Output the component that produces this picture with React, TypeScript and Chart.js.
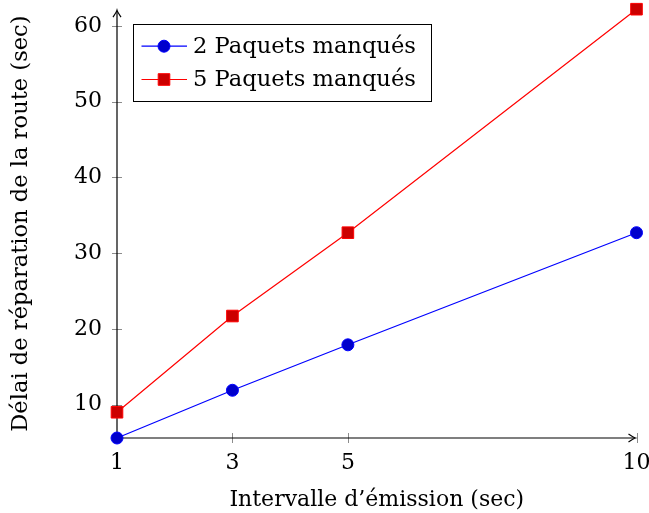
import React, { useEffect, useRef } from "react";
import { Chart, registerables } from "chart.js";

Chart.register(...registerables);

const xValues = [1, 3, 5, 10];
const blueValues = [5.6, 11.9, 17.9, 32.7];
const redValues = [9.0, 21.7, 32.7, 62.2];
const xTickValues = [1, 3, 5, 10];
const yTickValues = [10, 20, 30, 40, 50, 60];
const seriesLabels = ["2 Paquets manqués", "5 Paquets manqués"];
const xTitle = "Intervalle d’émission (sec)";
const yTitle = "Délai de réparation de la route (sec)";

const FONT = '"DejaVu Serif", serif';
const FS = 22;

function drawArrow(ctx: CanvasRenderingContext2D, tx: number, ty: number, dx: number, dy: number) {
  const L = 7, W = 4;
  const px = -dy, py = dx;
  ctx.beginPath();
  ctx.moveTo(tx - L * dx + W * px, ty - L * dy + W * py);
  ctx.quadraticCurveTo(tx - 2 * dx + 0.6 * px, ty - 2 * dy + 0.6 * py, tx, ty);
  ctx.quadraticCurveTo(tx - 2 * dx - 0.6 * px, ty - 2 * dy - 0.6 * py, tx - L * dx - W * px, ty - L * dy - W * py);
  ctx.stroke();
}

const axesPlugin = {
  id: "pgfAxes",
  beforeDatasetsDraw(chart: any) {
    const { ctx, chartArea: a, scales } = chart;
    const x = scales.x, y = scales.y;
    ctx.save();
    ctx.strokeStyle = "#8c8c8c";
    ctx.lineWidth = 1;
    for (const v of xTickValues) {
      const px = Math.round(x.getPixelForValue(v)) + 0.5;
      ctx.beginPath();
      ctx.moveTo(px, a.bottom - 5);
      ctx.lineTo(px, a.bottom + 5);
      ctx.stroke();
    }
    for (const v of yTickValues) {
      const py = Math.round(y.getPixelForValue(v)) + 0.5;
      ctx.beginPath();
      ctx.moveTo(a.left - 5, py);
      ctx.lineTo(a.left + 5, py);
      ctx.stroke();
    }
    ctx.strokeStyle = "#000";
    ctx.lineWidth = 1.2;
    ctx.beginPath();
    ctx.moveTo(a.left, a.bottom);
    ctx.lineTo(a.left, a.top + 2);
    ctx.moveTo(a.left, a.bottom);
    ctx.lineTo(a.right - 2, a.bottom);
    ctx.stroke();
    drawArrow(ctx, a.left, a.top + 1, 0, -1);
    drawArrow(ctx, a.right - 1, a.bottom, 1, 0);
    ctx.restore();
  },
};

const legendPlugin = {
  id: "pgfLegend",
  afterDatasetsDraw(chart: any) {
    const { ctx, chartArea: a } = chart;
    ctx.save();
    ctx.font = `22.6px ${FONT}`;
    const ds = chart.data.datasets;
    let maxW = 0;
    for (const d of ds) maxW = Math.max(maxW, ctx.measureText(d.label).width);
    const left = a.left + 16;
    const top = a.top + 14.5;
    const w = 8.5 + 45.5 + 6 + maxW + 15;
    const h = 76.5;
    ctx.fillStyle = "#fff";
    ctx.fillRect(left, top, w, h);
    ctx.strokeStyle = "#000";
    ctx.lineWidth = 1;
    ctx.strokeRect(Math.round(left) + 0.5, Math.round(top) + 0.5, Math.round(w), Math.round(h));
    const rows = [top + 22.5, top + 55.8];
    ds.forEach((d: any, i: number) => {
      const yy = rows[i];
      ctx.strokeStyle = d.borderColor;
      ctx.lineWidth = 1.2;
      ctx.beginPath();
      ctx.moveTo(left + 8.5, yy);
      ctx.lineTo(left + 54, yy);
      ctx.stroke();
      const mx = left + 31;
      ctx.lineWidth = 1;
      ctx.fillStyle = d.pointBackgroundColor;
      ctx.strokeStyle = d.pointBorderColor;
      if (d.pointStyle === "rect") {
        const s = d.pointRadius * Math.SQRT1_2;
        ctx.beginPath();
        ctx.rect(mx - s, yy - s, 2 * s, 2 * s);
        ctx.fill();
        ctx.stroke();
      } else {
        ctx.beginPath();
        ctx.arc(mx, yy, d.pointRadius, 0, Math.PI * 2);
        ctx.fill();
        ctx.stroke();
      }
      ctx.fillStyle = "#000";
      ctx.textBaseline = "middle";
      ctx.textAlign = "left";
      ctx.fillText(d.label, left + 60, yy + 1);
    });
    ctx.restore();
  },
};

export default function App() {
  const ref = useRef<HTMLCanvasElement>(null);
  useEffect(() => {
    if (!ref.current) return;
    const all = [...blueValues, ...redValues];
    const chart = new Chart(ref.current, {
      type: "line",
      data: {
        datasets: [
          {
            label: seriesLabels[0],
            data: xValues.map((x, i) => ({ x, y: blueValues[i] })),
            borderColor: "#0000ff",
            borderWidth: 1.2,
            pointStyle: "circle",
            pointRadius: 6,
            pointBackgroundColor: "#0000cc",
            pointBorderColor: "#0000ff",
            pointBorderWidth: 1,
            clip: false,
            tension: 0,
          },
          {
            label: seriesLabels[1],
            data: xValues.map((x, i) => ({ x, y: redValues[i] })),
            borderColor: "#ff0000",
            borderWidth: 1.2,
            pointStyle: "rect",
            pointRadius: 8.2,
            pointBackgroundColor: "#cc0000",
            pointBorderColor: "#ff0000",
            pointBorderWidth: 1,
            clip: false,
            tension: 0,
          },
        ] as any,
      },
      options: {
        animation: false,
        responsive: false,
        layout: { padding: { top: 7, right: 12.5, left: 0, bottom: 0 } },
        plugins: { legend: { display: false }, tooltip: { enabled: false } },
        scales: {
          x: {
            type: "linear",
            min: Math.min(...xValues),
            max: Math.max(...xValues),
            grid: { display: false, drawTicks: false },
            border: { display: false },
            afterBuildTicks: (s: any) => {
              s.ticks = xTickValues.map((v) => ({ value: v }));
            },
            afterFit: (s: any) => {
              s.height = 75;
              s.paddingLeft = 0;
              s.paddingRight = 0;
            },
            ticks: {
              padding: 12,
              color: "#000",
              font: { family: FONT, size: FS },
              callback: (v: any) => String(v),
              maxRotation: 0,
              autoSkip: false,
            },
            title: {
              display: true,
              text: xTitle,
              color: "#000",
              font: { family: FONT, size: 22 },
              padding: { top: 0, bottom: 0 },
            },
          },
          y: {
            type: "linear",
            min: Math.min(...all),
            max: Math.max(...all),
            grid: { display: false, drawTicks: false },
            border: { display: false },
            afterBuildTicks: (s: any) => {
              s.ticks = yTickValues.map((v) => ({ value: v }));
            },
            afterFit: (s: any) => {
              s.width = 117;
              s.paddingTop = 0;
              s.paddingBottom = 0;
            },
            ticks: {
              padding: 15,
              color: "#000",
              font: { family: FONT, size: FS },
              callback: (v: any) => String(v),
              autoSkip: false,
            },
            title: {
              display: true,
              text: yTitle,
              color: "#000",
              font: { family: FONT, size: 22.6 },
              padding: { top: 8, bottom: 0 },
            },
          },
        },
      },
      plugins: [axesPlugin, legendPlugin],
    });
    return () => chart.destroy();
  }, []);
  return (
    <div style={{ position: "absolute", left: 0, top: 0, width: 649, height: 513, background: "#fff" }}>
      <canvas ref={ref} width={649} height={513} style={{ display: "block" }} />
    </div>
  );
}
